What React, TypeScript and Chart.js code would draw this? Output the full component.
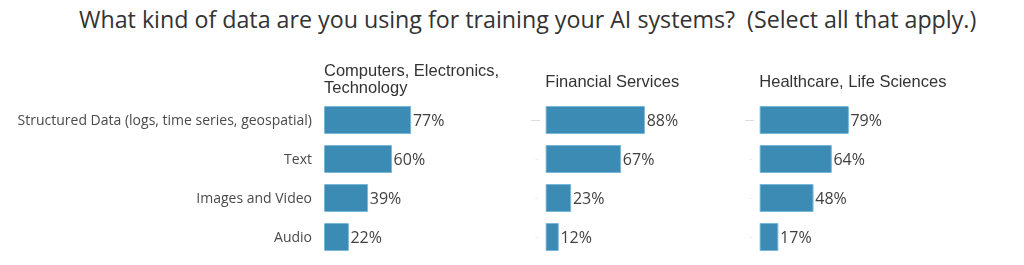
import React, { useEffect, useRef } from "react";
import { Chart, registerables } from "chart.js";

Chart.register(...registerables);

const chartTitle = "What kind of data are you using for training your AI systems?  (Select all that apply.)";
const categories = [
  "Structured Data (logs, time series, geospatial)",
  "Text",
  "Images and Video",
  "Audio",
];
const panelTitles = [
  ["Computers, Electronics,", "Technology"],
  ["Financial Services"],
  ["Healthcare, Life Sciences"],
];
const computersValues = [77, 60, 39, 22];
const financialValues = [88, 67, 23, 12];
const healthcareValues = [79, 64, 48, 17];

const panelValues = [computersValues, financialValues, healthcareValues];

// layout of each panel canvas
const panelLayout = [
  { left: 0, width: 520, axisWidth: 324, showLabels: true },
  { left: 440, width: 260, axisWidth: 105.3, showLabels: false },
  { left: 660, width: 364, axisWidth: 99.3, showLabels: false },
];
const CANVAS_HEIGHT = 272;
const AREA_TOP = 100.5;
const AREA_BOTTOM = 256.5;
const SCALE_WIDTH = 113.5;
const BAR_COLOR = "#3b8bb5";
const BAR_BORDER = "#78b6da";

const panelPlugin = {
  id: "panelDecor",
  afterDatasetsDraw(chart: any, _args: any, opts: any) {
    const ctx = chart.ctx;
    const area = chart.chartArea;
    const meta = chart.getDatasetMeta(0);
    const data = chart.data.datasets[0].data as number[];
    ctx.save();
    // value labels
    ctx.font = "16px 'Open Sans'";
    ctx.fillStyle = "#404040";
    ctx.textAlign = "left";
    ctx.textBaseline = "middle";
    meta.data.forEach((bar: any, i: number) => {
      ctx.fillText(data[i] + "%", bar.x + 1.5, bar.y + 1);
    });
    // panel title
    const lines: string[] = opts.title || [];
    ctx.font = "16.5px 'Liberation Sans', Arial, sans-serif";
    ctx.fillStyle = "#333333";
    ctx.textBaseline = "alphabetic";
    const lh = 17;
    const lastBase = area.top - (lines.length > 1 ? 7.5 : 13.5);
    lines.forEach((ln, i) => {
      ctx.fillText(ln, area.left, lastBase - (lines.length - 1 - i) * lh);
    });
    // faint tick marks
    if (opts.ticks) {
      const y = chart.scales.y;
      y.ticks.forEach((_t: any, i: number) => {
        const py = Math.round(y.getPixelForTick(i)) + 0.5;
        ctx.strokeStyle = i === 0 ? "#dcdcdc" : "#ececec";
        ctx.lineWidth = 1;
        ctx.beginPath();
        if (i === 0) {
          ctx.moveTo(area.left - 14, py);
          ctx.lineTo(area.left - 5, py);
        } else {
          ctx.moveTo(area.left - 10, py);
          ctx.lineTo(area.left - 7, py);
        }
        ctx.stroke();
      });
    }
    ctx.restore();
  },
};

function Panel({ index }: { index: number }) {
  const ref = useRef<HTMLCanvasElement | null>(null);
  const lay = panelLayout[index];
  useEffect(() => {
    if (!ref.current) return;
    const chart = new Chart(ref.current, {
      type: "bar",
      data: {
        labels: categories,
        datasets: [
          {
            data: panelValues[index],
            backgroundColor: BAR_COLOR,
            borderColor: BAR_BORDER,
            borderWidth: 1,
            borderRadius: 1,
            borderSkipped: false,
            barPercentage: 0.72,
            categoryPercentage: 1,
          },
        ],
      },
      options: {
        indexAxis: "y",
        animation: false,
        responsive: false,
        maintainAspectRatio: false,
        events: [],
        layout: {
          padding: {
            top: AREA_TOP,
            bottom: CANVAS_HEIGHT - AREA_BOTTOM,
            left: 0,
            right: lay.width - lay.axisWidth - SCALE_WIDTH,
          },
        },
        plugins: {
          legend: { display: false },
          tooltip: { enabled: false },
          title: { display: false },
          panelDecor: { title: panelTitles[index], ticks: !lay.showLabels },
        } as any,
        scales: {
          x: {
            display: false,
            min: 0,
            max: 100,
          },
          y: {
            display: true,
            grid: { display: false, drawTicks: false },
            border: { display: false },
            ticks: {
              display: lay.showLabels,
              padding: 12,
              labelOffset: 1.5,
              color: "#4a4a4a",
              autoSkip: false,
              font: { family: "'Open Sans'", size: 14, lineHeight: 0 },
            },
            afterFit(scale: any) {
              scale.width = lay.axisWidth;
            },
          },
        },
      },
      plugins: [panelPlugin],
    });
    return () => chart.destroy();
  }, [index]);
  return (
    <canvas
      ref={ref}
      width={lay.width}
      height={CANVAS_HEIGHT}
      style={{ position: "absolute", left: lay.left, top: 0, width: lay.width, height: CANVAS_HEIGHT }}
    />
  );
}

export default function App() {
  return (
    <div
      style={{
        position: "absolute",
        left: 0,
        top: 0,
        width: 1024,
        height: 265,
        overflow: "hidden",
        background: "#ffffff",
      }}
    >
      <div
        style={{
          position: "absolute",
          left: 79,
          top: 3,
          whiteSpace: "pre",
          fontFamily: "'Open Sans', sans-serif",
          fontSize: 24,
          lineHeight: "32px",
          color: "#333333",
          transformOrigin: "0 0",
          transform: "scaleX(0.9676)",
        }}
      >
        {chartTitle}
      </div>
      {panelLayout.map((_p, i) => (
        <Panel key={i} index={i} />
      ))}
    </div>
  );
}
